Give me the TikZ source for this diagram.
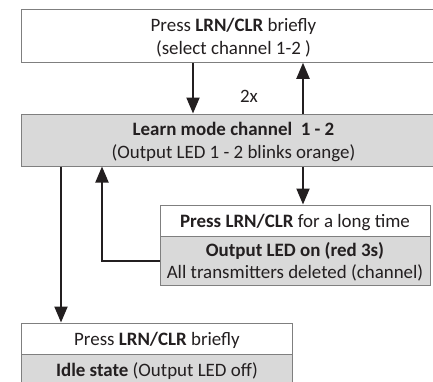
\documentclass[tikz,border=0pt]{standalone}
\usepackage{fontspec}
\setmainfont{Carlito}
\usetikzlibrary{arrows.meta}

\definecolor{boxgray}{HTML}{D9D9D9}
\definecolor{linegray}{HTML}{7F7F7F}
\definecolor{textdark}{HTML}{231F20}

\tikzset{
  box/.style={draw=linegray, line width=1bp, fill=white, align=center,
    inner sep=0pt, text depth=0pt, text=textdark, font=\fontsize{19}{23}\selectfont},
  graybox/.style={box, fill=boxgray},
  arr/.style={line width=2bp, draw=textdark, -{Triangle[length=16bp,width=13bp]}}
}

\begin{document}
\begin{tikzpicture}[x=1bp, y=-1bp]
  \useasboundingbox (0,0) rectangle (433,381);
  \clip (0,0) rectangle (433,381);

  % Kanal waehlen
  \node[box, minimum width=423bp, minimum height=52.5bp] (select) at (233.5,36) {Press \textbf{LRN/CLR} briefly\\(select channel 1-2 )};

  % Lernmodus
  \node[graybox, minimum width=423bp, minimum height=52bp] (learn) at (233.5,140) {\textbf{Learn mode channel\ \ 1 - 2}\\(Output LED 1 - 2 blinks orange)};

  % Loeschen
  \node[box, minimum width=270bp, minimum height=31bp] (longpress) at (295,220.5) {\textbf{Press LRN/CLR} for a long time};
  \node[graybox, minimum width=270bp, minimum height=49bp] (deleted) at (295,260.5) {\textbf{Output LED on (red 3s)}\\All transmitters deleted (channel)};

  % Ruhezustand
  \node[box, minimum width=270bp, minimum height=31bp] (pressidle) at (157,338.5) {Press \textbf{LRN/CLR} briefly};
  \node[graybox, minimum width=270bp, minimum height=31bp] (idle) at (157,369.5) {\textbf{Idle state} (Output LED off)};

  \node[text=textdark, font=\fontsize{19}{23}\selectfont] (twice) at (249,96) {2x};

  % Pfeile
  \draw[arr] ([xshift=-40.5bp]select.south) -- ([xshift=-40.5bp]learn.north);
  \draw[arr] ([xshift=69.5bp]learn.north) -- ([xshift=69.5bp]select.south);
  \draw[arr] ([xshift=69.5bp]learn.south) -- ([xshift=69.5bp]learn.south |- longpress.north);
  \draw[arr] (deleted.west) -| ([xshift=-131.5bp]learn.south);
  \draw[arr] ([xshift=-172.5bp]learn.south) -- ([xshift=-172.5bp]learn.south |- pressidle.north);
\end{tikzpicture}
\end{document}
